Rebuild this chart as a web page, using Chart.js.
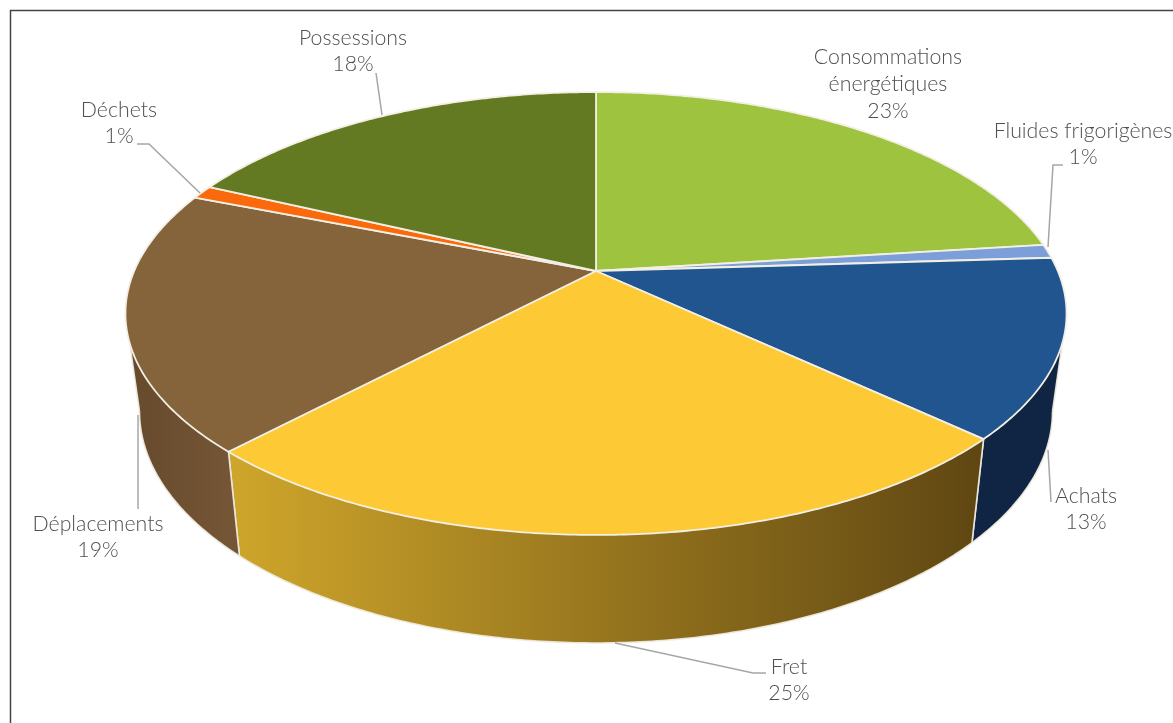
<!DOCTYPE html>
<html><head><meta charset="utf-8">
<style>html,body{margin:0;padding:0;background:#fff}#w{position:absolute;left:0;top:0;width:1173px;height:723px}</style>
<script src="https://cdn.jsdelivr.net/npm/chart.js@4/dist/chart.umd.js"></script>
</head><body><div id="w"><canvas id="c"></canvas></div>
<script>
const categories = ["Consommations énergétiques","Fluides frigorigènes","Achats","Fret","Déplacements","Déchets","Possessions"];
const percents = [23,1,13,25,19,1,18];
const topColors = ["#9dc33f","#7c9fd9","#20558f","#fdc935","#85633b","#fa6a0c","#647a22"];
const wallLeft  = ["#6a8a2a","#54709a","#0f2543","#cfa62b","#664a2d","#a8470a","#435216"];
const wallRight = ["#6a8a2a","#54709a","#0f2543","#5f4612","#745535","#a8470a","#435216"];
const labelLines = [["Consommations","énergétiques","23%"],["Fluides frigorigènes","1%"],["Achats","13%"],["Fret","25%"],["Déplacements","19%"],["Déchets","1%"],["Possessions","18%"]];
const labelCentres = [[888,84],[1083,144],[1086,509],[789,680],[98,537],[119,123],[353,51]];
const leaders = [null,[[1048,247],[1053,165],[1063,165]],[[1048,450],[1051,502]],[[615,643],[753,673],[766,673]],[[138,415],[138,509]],[[200,193],[149,144],[137,144]],[[382,115],[376,73]]];

const VIEW = {cx:596, apexY:271, A:461.8, B:213.3, k:0.1919};
const BASE = {cx:596, apexY:367, A:448, B:223, k:0.1919};
const VIS0 = Math.asin(VIEW.k), VIS1 = Math.PI-VIS0;
function proj(v, t){
  const x=Math.cos(t), y=Math.sin(t), w=1-v.k*y;
  return [v.cx+v.A*x/w, v.apexY+v.B*y/w];
}
function rim(ctx,v,t1,t2,move){
  const n=Math.max(2,Math.ceil(Math.abs(t2-t1)/0.01));
  for(let i=0;i<=n;i++){const p=proj(v,t1+(t2-t1)*i/n);
    if(i===0&&move)ctx.moveTo(p[0],p[1]);else ctx.lineTo(p[0],p[1]);}
}
const pie3d={id:'pie3d',
  beforeDraw(chart){
    const c=chart.ctx;c.save();c.fillStyle='#fff';c.fillRect(0,0,chart.width,chart.height);
    c.strokeStyle='#444';c.lineWidth=1.5;c.strokeRect(10.5,10.5,1300,1000);c.restore();
  },
  beforeDatasetsDraw(chart){
    const c=chart.ctx, arcs=chart.getDatasetMeta(0).data;
    c.save();c.lineJoin='round';
    arcs.forEach((a,i)=>{
      const t1=Math.max(a.startAngle,VIS0), t2=Math.min(a.endAngle,VIS1);
      if(t2<=t1)return;
      const p1=proj(VIEW,t1), p2=proj(VIEW,t2);
      const g=c.createLinearGradient(Math.min(p1[0],p2[0]),0,Math.max(p1[0],p2[0]),0);
      g.addColorStop(0,wallLeft[i]);g.addColorStop(1,wallRight[i]);
      c.beginPath();rim(c,VIEW,t1,t2,true);rim(c,BASE,t2,t1,false);c.closePath();
      c.fillStyle=g;c.fill();
      c.strokeStyle='rgba(238,234,222,0.95)';c.lineWidth=1.6;
      c.beginPath();rim(c,BASE,t1,t2,true);c.stroke();
      [t1,t2].forEach(t=>{const u=proj(VIEW,t),b=proj(BASE,t);c.beginPath();c.moveTo(u[0],u[1]);c.lineTo(b[0],b[1]);c.stroke();});
    });
    arcs.forEach((a,i)=>{
      c.beginPath();c.moveTo(VIEW.cx,VIEW.apexY);rim(c,VIEW,a.startAngle,a.endAngle,false);c.closePath();
      c.fillStyle=a.options.backgroundColor;c.fill();
      c.strokeStyle='#f2efe4';c.lineWidth=1.8;c.stroke();
    });
    c.restore();
    return false;
  },
  afterDraw(chart){
    const c=chart.ctx;c.save();
    c.strokeStyle='#a6a6a6';c.lineWidth=1.5;
    leaders.forEach(l=>{if(!l)return;c.beginPath();l.forEach((p,i)=>i?c.lineTo(p[0],p[1]):c.moveTo(p[0],p[1]));c.stroke();});
    c.fillStyle='#4f4f4f';c.font='300 21.3px Lato';c.textAlign='center';c.textBaseline='middle';
    labelLines.forEach((ls,i)=>{const [x,y]=labelCentres[i];const h=26.7;
      ls.forEach((s,j)=>c.fillText(s,x,y+(j-(ls.length-1)/2)*h));});
    c.restore();
  }
};
new Chart(document.getElementById('c'),{type:'pie',
  data:{labels:categories,datasets:[{data:percents,backgroundColor:topColors,borderWidth:0}]},
  options:{responsive:true,maintainAspectRatio:false,animation:false,
    plugins:{legend:{display:false},tooltip:{enabled:false}}},
  plugins:[pie3d]});
</script></body></html>
